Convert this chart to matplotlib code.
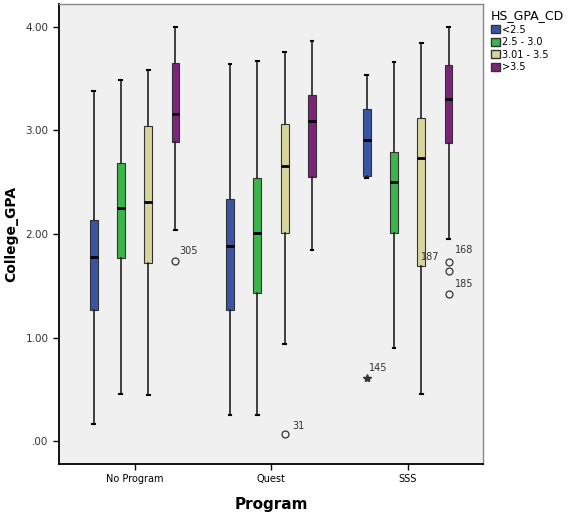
import matplotlib.pyplot as plt
from matplotlib.patches import Patch

# Data
programs = ["No Program", "Quest", "SSS"]
categories = ["<2.5", "2.5 - 3.0", "3.01 - 3.5", ">3.5"]
colors = ["#3a53a4", "#3cb54a", "#d8d59c", "#7c2479"]

# rows: program, columns: HS GPA category
whis_lo = [[0.17, 0.46, 0.45, 2.04],
           [0.25, 0.25, 0.94, 1.85],
           [2.54, 0.90, 0.46, 1.95]]
q1 = [[1.27, 1.77, 1.72, 2.89],
      [1.27, 1.43, 2.01, 2.55],
      [2.56, 2.01, 1.69, 2.88]]
med = [[1.78, 2.25, 2.31, 3.16],
       [1.88, 2.01, 2.66, 3.09],
       [2.91, 2.50, 2.73, 3.30]]
q3 = [[2.14, 2.69, 3.04, 3.65],
      [2.34, 2.54, 3.06, 3.34],
      [3.21, 2.79, 3.12, 3.63]]
whis_hi = [[3.38, 3.49, 3.58, 4.00],
           [3.64, 3.67, 3.76, 3.86],
           [3.54, 3.66, 3.84, 4.00]]

# outliers: (program, category, value, case id, marker)
outliers = [(0, 3, 1.74, "305", "o"),
            (1, 2, 0.07, "31", "o"),
            (2, 0, 0.61, "145", "*"),
            (2, 3, 1.73, "168", "o"),
            (2, 3, 1.64, "187", "o"),
            (2, 3, 1.42, "185", "o")]
label_offsets = {"305": (4, 10), "31": (8, 8), "145": (2, 10),
                 "168": (6, 12), "187": (-28, 14), "185": (6, 10)}

fig = plt.figure(figsize=(5.73, 5.13), dpi=100)
ax = fig.add_axes([0.103, 0.0955, 0.740, 0.8965])
ax.set_facecolor("#f0f0f0")

step = 0.2
width = 0.058
for p in range(len(programs)):
    for c in range(len(categories)):
        pos = p + (c - 1.5) * step
        stats = [{"whislo": whis_lo[p][c], "q1": q1[p][c], "med": med[p][c],
                  "q3": q3[p][c], "whishi": whis_hi[p][c], "fliers": []}]
        ax.bxp(stats, positions=[pos], widths=width, patch_artist=True,
               showfliers=False, manage_ticks=False,
               boxprops=dict(facecolor=colors[c], edgecolor="#333333", linewidth=0.8),
               medianprops=dict(color="black", linewidth=2),
               whiskerprops=dict(color="#222222", linewidth=1.2),
               capprops=dict(color="black", linewidth=1.5),
               capwidths=0.02)

for p, c, val, case, mk in outliers:
    pos = p + (c - 1.5) * step
    if mk == "*":
        ax.plot(pos, val, marker="*", color="#333333", markersize=6, linestyle="none")
    else:
        ax.plot(pos, val, marker="o", markerfacecolor="none", markeredgecolor="#333333",
                markersize=5, markeredgewidth=0.9, linestyle="none")
    ax.annotate(case, (pos, val), xytext=label_offsets[case], textcoords="offset pixels",
                fontsize=7, color="#333333", ha="left", va="center")

ax.set_xlim(-0.553, 2.553)
ax.set_ylim(-0.22, 4.22)
ax.set_xticks(range(len(programs)))
ax.set_xticklabels(programs, fontsize=7)
ax.set_yticks([0, 1, 2, 3, 4])
ax.set_yticklabels([".00", "1.00", "2.00", "3.00", "4.00"], fontsize=7.5, color="#333333")
ax.tick_params(axis="both", direction="out", length=4, width=1)

for side in ["left", "bottom"]:
    ax.spines[side].set_color("black")
    ax.spines[side].set_linewidth(1.3)
for side in ["top", "right"]:
    ax.spines[side].set_color("#888888")
    ax.spines[side].set_linewidth(1)

ax.set_xlabel("Program", fontsize=11, fontweight="bold", labelpad=9)
ax.set_ylabel("College_GPA", fontsize=10, fontweight="bold", labelpad=5)

handles = [Patch(facecolor=colors[i], edgecolor="#333333", label=categories[i])
           for i in range(len(categories))]
leg = fig.legend(handles=handles, title="HS_GPA_CD", loc="upper left",
                 bbox_to_anchor=(0.845, 0.995), frameon=False, fontsize=7,
                 title_fontsize=9, handlelength=0.9, handleheight=0.9,
                 handletextpad=0.2, labelspacing=0.25, borderpad=0.2)
leg._legend_box.align = "left"

fig.savefig("out.png", dpi=100)
